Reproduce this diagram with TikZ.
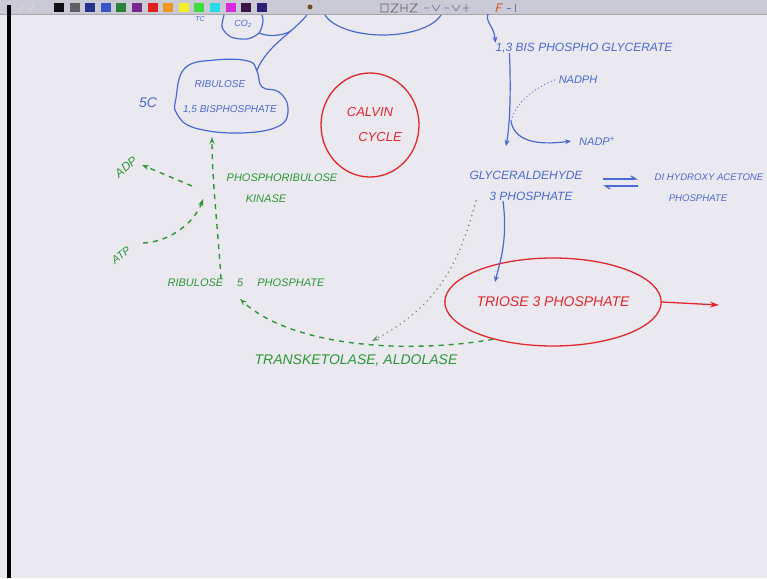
\documentclass[tikz,border=0pt]{standalone}
\usepackage{fontspec}
\setmainfont{Liberation Sans}
\usetikzlibrary{arrows.meta,shapes.geometric,calc}
\definecolor{bg}{RGB}{234,233,240}
\definecolor{pblue}{RGB}{75,105,210}
\definecolor{pred}{RGB}{225,40,45}
\definecolor{pgreen}{RGB}{45,150,55}
\definecolor{pgdot}{RGB}{110,145,110}
\definecolor{tbar}{RGB}{202,202,214}
\definecolor{tbA}{RGB}{15,15,20}
\definecolor{tbB}{RGB}{95,95,100}
\definecolor{tbC}{RGB}{40,50,140}
\definecolor{tbD}{RGB}{55,85,200}
\definecolor{tbE}{RGB}{40,130,60}
\definecolor{tbF}{RGB}{120,40,140}
\definecolor{tbG}{RGB}{225,30,30}
\definecolor{tbH}{RGB}{240,150,30}
\definecolor{tbI}{RGB}{245,240,40}
\definecolor{tbJ}{RGB}{60,220,60}
\definecolor{tbK}{RGB}{40,220,230}
\definecolor{tbL}{RGB}{220,40,220}
\definecolor{tbM}{RGB}{60,20,70}
\definecolor{tbN}{RGB}{45,30,120}
\begin{document}
\begin{tikzpicture}[x=1pt,y=-1pt,
  txt/.style={inner sep=0pt},
  fsz/.style={font=\itshape\fontsize{#1}{#1}\selectfont},
  bl/.style={txt,text=pblue},
  rd/.style={txt,text=pred},
  gr/.style={txt,text=pgreen},
  bline/.style={draw=pblue,line width=1.2pt},
  bdot/.style={draw=pblue!80,line width=1.5pt,dash pattern=on 0.1pt off 3.5pt,line cap=round},
  rline/.style={draw=pred,line width=1.3pt},
  gdash/.style={draw=pgreen,line width=1.4pt,dash pattern=on 5pt off 5pt},
  gdot/.style={draw=pgdot,line width=1.7pt,dash pattern=on 0.1pt off 5pt,line cap=round},
  tipb/.style={-{Stealth[length=6pt,width=5pt]}},
  tipr/.style={-{Stealth[length=9pt,width=6pt]}},
  tipg/.style={-{Stealth[length=7pt,width=5pt]}},
  harp/.style={bline,-{Straight Barb[left,length=5pt,width=6pt]}},
]
\useasboundingbox (0,0) rectangle (767,578);
\fill[bg] (0,0) rectangle (767,578);

% ---- partly hidden shapes at the top
\draw[bline] (383,8) ellipse [x radius=60,y radius=27];
\draw[bline] plot[smooth] coordinates {(225,12) (222,27) (231,37) (247,39) (259,33) (263,21) (261,12)};
\node[bl,fsz=9] (co2) at (243,24) {CO\textsubscript{2}};
\node[bl,fsz=7] (tc) at (200,19) {TC};

% ---- RuBP blob
\draw[bline] plot[smooth cycle,tension=0.7] coordinates {(176,98) (185,68) (215,60) (248,61) (257,71) (262,87) (279,92) (288,108) (279,126) (240,133) (195,128) (177,114)};
\coordinate (rbtop) at (257,70);
\coordinate (rbbot) at (212,137);
\coordinate (topjoin) at (307,15);
\coordinate (co2out) at (259,33);
\coordinate (co2in) at (291,31);
\draw[bline] (topjoin) .. controls (290,35) and (268,45) .. (rbtop);
\draw[bline] (co2out) .. controls (268,37) and (282,36) .. (co2in);
\node[bl,fsz=10,align=center] (rubp) at (220,97) {RIBULOSE\\[15pt]\hspace*{20pt}1,5 BISPHOSPHATE};
\node[bl,fsz=14] (fivec) at (148,103) {5C};

% ---- toolbar
\fill[tbar] (0,0) rectangle (767,14);
\draw[gray!70,line width=0.6pt] (0,14) -- (767,14);
\foreach \c [count=\i from 0] in {tbA,tbB,tbC,tbD,tbE,tbF,tbG,tbH,tbI,tbJ,tbK,tbL,tbM,tbN}
  \fill[fill=\c] ({54+15.6*\i},3) rectangle ++(10,9);
\draw[white!70!gray,line width=0.8pt] (20,11) -- (24,4) (30,11) -- (34,4);
\fill[brown!60!black] (310,7) circle [radius=2.5];
\draw[gray!75!black,line width=0.7pt] (381,4) rectangle (388,12)
  (391,4) -- (398,4) -- (391,12) -- (398,12)
  (401,4) -- (401,12) (401,8) -- (407,8) (407,4) -- (407,12)
  (410,4) -- (417,4) -- (410,12) -- (417,12);
\draw[gray!60!pblue,line width=0.7pt] (424,8) -- (429,8) (432,5) -- (436,11) (440,5) -- (436,11)
  (444,8) -- (449,8) (452,5) -- (456,11) (460,5) -- (456,11) (466,4) -- (466,12) (463,8) -- (469,8);
\draw[brown!70!red,line width=1pt] (496,12) -- (498,4) -- (503,4) (497,8) -- (501,8);
\draw[gray!60!pblue,line width=0.7pt] (507,8) -- (511,8) (515,4) -- (515,12);
\fill[black] (7,5) rectangle (11,578);

% ---- Calvin cycle
\node[ellipse,draw=pred,line width=1.3pt,minimum width=98pt,minimum height=104pt,rd,fsz=13,align=center] (calvin) at (370,125) {CALVIN\\[12pt]\hspace*{20pt}CYCLE};

% ---- right column
\coordinate (topar) at (488,14);
\node[bl,fsz=12] (bpg) at (584,48) {1,3 BIS PHOSPHO GLYCERATE};
\draw[bline,tipb] (topar) .. controls (485,22) and (494,26) .. (bpg.north west);
\node[bl,fsz=11] (nadph) at (578,80) {NADPH};
\node[bl,fsz=11] (nadpp) at (597,141) {NADP\textsuperscript{+}};
\coordinate (kink) at (511,121);
\coordinate (gaptop) at (506,146);
\draw[bline,tipb] ([xshift=14pt]bpg.south west) .. controls (511,90) and (510,125) .. (gaptop);
\draw[bline,tipb] (kink) .. controls (514,140) and (535,146) .. ([xshift=-8pt]nadpp.west);
\draw[bdot] ([xshift=-4pt]nadph.west) .. controls (530,90) and (515,105) .. (kink);

\node[bl,fsz=12,align=center] (gap) at (526,186) {GLYCERALDEHYDE\\[9pt]\hspace*{10pt}3 PHOSPHATE};
\node[bl,fsz=9.6,align=center] (dhap) at (709,188) {DI HYDROXY ACETONE\\[11.4pt]\hspace*{-22pt}PHOSPHATE};
\coordinate (eqa1) at (603,179);
\coordinate (eqa2) at (638,179);
\coordinate (eqb1) at (638,186);
\coordinate (eqb2) at (603,186);
\draw[harp] (eqa1) -- (eqa2);
\draw[harp] (eqb1) -- (eqb2);

\node[ellipse,draw=pred,line width=1.3pt,minimum width=180pt,minimum height=88pt,rd,fsz=14] (tp) at (553,302) {TRIOSE 3 PHOSPHATE};
\coordinate (tpin) at (495,282);
\draw[bline,tipb] ([xshift=-23pt]gap.south) .. controls (508,240) and (500,262) .. (tpin);
\coordinate (out) at (719,305);
\draw[rline,tipr] (tp.east) -- (out);

% ---- green regeneration
\node[gr,fsz=11] (r5p) at (246,283) {RIBULOSE\hspace{14pt}5\hspace{14pt}PHOSPHATE};
\node[gr,fsz=11,align=center] (kin) at (282,188) {PHOSPHORIBULOSE\\[10pt]\hspace*{-32pt}KINASE};
\node[gr,fsz=12,rotate=40] (adp) at (126,167) {ADP};
\node[gr,fsz=11,rotate=38] (atp) at (121,255) {ATP};
\node[gr,fsz=14] (tk) at (356,361) {TRANSKETOLASE, ALDOLASE};

\coordinate (jn1) at (192,186);
\coordinate (jn2) at (203,199);
\coordinate (adpin) at (142,165);
\coordinate (atpout) at (143,243);
\coordinate (r5pin) at (240,299);
\coordinate (tkin) at (372,341);
\draw[gdash,tipg] ([xshift=-25pt]r5p.north) .. controls (218,230) and (212,180) .. (rbbot);
\draw[gdash,tipg] (jn1) -- (adpin);
\draw[gdash,tipg] (atpout) .. controls (170,242) and (195,222) .. (jn2);
\draw[gdash,tipg] (tp.212) .. controls (400,355) and (290,345) .. (r5pin);
\draw[gdot,tipg] ([xshift=-50pt]gap.south) .. controls (460,260) and (440,305) .. (tkin);
\end{tikzpicture}
\end{document}
